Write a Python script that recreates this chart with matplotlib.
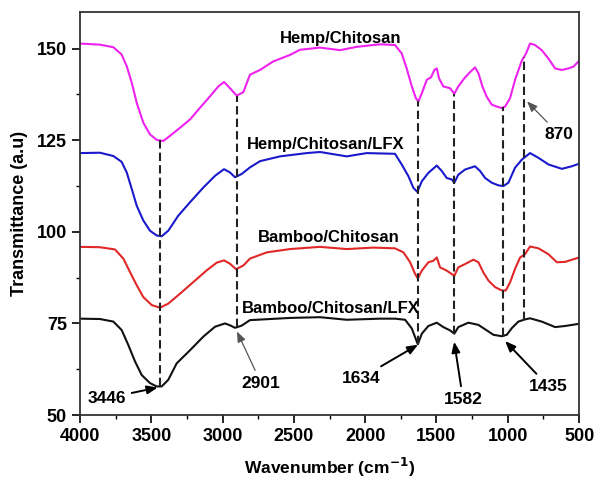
import numpy as np
import matplotlib
matplotlib.use("Agg")
import matplotlib.pyplot as plt

plt.rcParams['font.family'] = ['Liberation Sans', 'DejaVu Sans']
plt.rcParams['font.weight'] = 'bold'

# Hemp/Chitosan (magenta)
hc_wn = [4000, 3860, 3766, 3708, 3672, 3637, 3602, 3556, 3509, 3462, 3416, 3369, 3299, 3228,
         3158, 3088, 3030, 2990, 2960, 2901, 2855, 2808, 2737, 2646, 2527, 2457, 2317, 2177,
         2059, 1896, 1791, 1744, 1709, 1673, 1645, 1627, 1603, 1568, 1538, 1515, 1498, 1482,
         1452, 1405, 1375, 1347, 1305, 1272, 1230, 1206, 1178, 1148, 1112, 1077, 1042, 1019,
         984, 949, 902, 872, 844, 809, 762, 715, 668, 621, 575, 540, 500]
hc_val = [151.4, 151.1, 150.4, 148.4, 145.2, 140.7, 135.2, 129.8, 126.6, 125.1, 124.8, 126.2,
          128.4, 130.7, 133.9, 137.0, 139.7, 140.9, 139.7, 137.2, 138.1, 142.9, 144.2, 146.5,
          148.3, 149.7, 150.3, 149.6, 150.5, 151.2, 151.0, 148.7, 144.6, 139.7, 136.5, 135.6,
          137.8, 141.5, 142.2, 144.2, 144.6, 141.9, 139.7, 139.2, 137.7, 139.7, 141.9, 143.3,
          144.9, 143.3, 139.7, 136.9, 134.7, 134.2, 133.8, 134.2, 136.5, 141.5, 146.7, 148.7,
          151.4, 151.0, 149.6, 147.3, 144.6, 144.2, 144.6, 145.1, 146.7]

# Hemp/Chitosan/LFX (blue)
hcl_wn = [4000, 3860, 3766, 3708, 3672, 3637, 3602, 3556, 3509, 3462, 3427, 3381, 3311, 3228,
          3135, 3053, 2990, 2948, 2913, 2866, 2808, 2737, 2597, 2410, 2317, 2130, 1989, 1791,
          1744, 1697, 1662, 1634, 1603, 1557, 1498, 1463, 1428, 1393, 1375, 1347, 1300, 1230,
          1194, 1159, 1112, 1066, 1031, 996, 949, 902, 844, 785, 715, 621, 551, 500]
hcl_val = [121.5, 121.6, 120.7, 119.1, 116.2, 111.7, 107.1, 103.1, 100.3, 99.0, 98.8, 100.3,
           104.4, 108.1, 112.1, 115.3, 117.1, 116.2, 114.9, 115.8, 117.6, 119.3, 120.6, 121.5,
           121.8, 120.6, 121.5, 121.3, 118.4, 115.2, 112.0, 110.9, 113.8, 116.1, 118.1, 116.6,
           114.7, 114.3, 113.4, 115.6, 117.0, 117.9, 116.6, 114.7, 113.4, 112.7, 112.5, 113.4,
           117.5, 119.7, 121.5, 120.2, 118.4, 117.2, 117.9, 118.6]

# Bamboo/Chitosan (red)
bc_wn = [4000, 3860, 3755, 3696, 3649, 3602, 3556, 3497, 3439, 3381, 3299, 3205, 3111, 3041,
         2990, 2948, 2906, 2855, 2808, 2690, 2527, 2317, 2130, 1943, 1791, 1732, 1685, 1650,
         1631, 1603, 1557, 1522, 1498, 1475, 1428, 1375, 1347, 1300, 1241, 1206, 1171, 1136,
         1089, 1042, 1014, 984, 949, 914, 879, 844, 785, 715, 656, 598, 500]
bc_val = [95.9, 95.8, 95.2, 92.7, 89.0, 85.4, 82.2, 80.0, 79.3, 80.4, 83.1, 86.3, 89.5, 91.6,
          92.2, 91.3, 89.8, 90.8, 92.7, 94.4, 95.3, 95.9, 95.3, 95.7, 95.5, 94.4, 91.7, 88.5,
          87.3, 89.4, 91.7, 92.1, 93.0, 90.3, 89.4, 88.0, 90.3, 91.2, 92.4, 91.7, 88.9, 86.7,
          84.9, 84.0, 84.0, 86.2, 89.9, 93.0, 93.9, 96.0, 95.5, 93.9, 91.7, 91.8, 93.0]

# Bamboo/Chitosan/LFX (black)
bcl_wn = [4000, 3860, 3766, 3708, 3661, 3614, 3567, 3509, 3462, 3427, 3381, 3322, 3228, 3135,
          3053, 2983, 2943, 2913, 2866, 2808, 2527, 2317, 2130, 1896, 1791, 1720, 1673, 1631,
          1603, 1557, 1498, 1452, 1405, 1375, 1347, 1276, 1206, 1159, 1101, 1042, 1007, 972,
          926, 879, 844, 762, 668, 598, 500]
bcl_val = [76.3, 76.2, 75.5, 73.2, 69.1, 64.6, 60.9, 58.7, 57.8, 57.8, 59.6, 64.1, 67.7, 71.4,
           74.1, 75.0, 74.4, 73.8, 74.4, 75.9, 76.5, 76.7, 76.0, 76.3, 76.3, 76.0, 73.6, 69.3,
           72.2, 74.3, 75.2, 74.0, 73.1, 72.2, 74.0, 75.2, 74.6, 73.4, 71.9, 71.5, 71.9, 73.7,
           75.5, 76.1, 76.4, 75.5, 74.0, 74.3, 74.9]

series_names = ["Hemp/Chitosan", "Hemp/Chitosan/LFX", "Bamboo/Chitosan", "Bamboo/Chitosan/LFX"]
series_colors = ["#ee22ee", "#1a1acc", "#e02828", "#111111"]
label_pos = [(2169, 152.7), (2275, 123.9), (2254, 98.4), (2240, 79.1)]

# marked bands: dashed line positions
band_wn = [3440, 2901, 1629, 1376, 1033, 886]

# peak labels: text, text position, arrow tip
peak_labels = ["3446", "2901", "1634", "1582", "1435", "870"]
peak_text_xy = [(3811, 54.6), (2730, 58.7), (2029, 60.1), (1314, 54.3), (717, 57.9), (640, 126.6)]
peak_tip_xy = [(3455, 57.5), (2899, 72.8), (1629, 69.2), (1376, 70.0), (1019, 70.2), (865, 135.6)]
peak_arrow_col = ["black", "#555555", "black", "black", "black", "#555555"]


def main():
    fig = plt.figure(figsize=(5.97, 4.82), dpi=100)
    ax = fig.add_axes([0.134, 0.139, 0.836, 0.836])

    curves = [(hc_wn, hc_val), (hcl_wn, hcl_val), (bc_wn, bc_val), (bcl_wn, bcl_val)]
    for (wn, val), name, col, pos in zip(curves, series_names, series_colors, label_pos):
        ax.plot(wn, val, color=col, lw=1.5)
        ax.text(pos[0], pos[1], name, ha='center', va='center', fontsize=12, fontweight='bold')

    # dashed lines from top to bottom spectrum
    top = np.interp(band_wn, hc_wn[::-1], hc_val[::-1])
    bot = np.interp(band_wn, bcl_wn[::-1], bcl_val[::-1])
    for x, y0, y1 in zip(band_wn, bot, top):
        ax.plot([x, x], [y0, y1], color="#222222", lw=1.5, ls=(0, (4, 2)))

    for txt, txy, tip, col in zip(peak_labels, peak_text_xy, peak_tip_xy, peak_arrow_col):
        lw = 1.4 if col == "black" else 0.9
        ax.annotate(txt, xy=tip, xytext=txy, ha='center', va='center',
                    fontsize=12.5, fontweight='bold',
                    arrowprops=dict(arrowstyle='-|>,head_length=0.5,head_width=0.2',
                                    color=col, lw=lw, shrinkA=2, shrinkB=0))

    ax.set_xlim(4000, 500)
    ax.set_ylim(50, 160)
    ax.set_xticks([4000, 3500, 3000, 2500, 2000, 1500, 1000, 500])
    ax.set_xticks(np.arange(500, 4001, 250), minor=True)
    ax.set_yticks([50, 75, 100, 125, 150])
    ax.set_yticks(np.arange(50, 160, 12.5), minor=True)
    ax.tick_params(which='major', direction='out', length=6, width=1.2, labelsize=13,
                   top=False, right=False)
    ax.tick_params(which='minor', direction='out', length=3, width=1.0, top=False, right=False)
    for lab in ax.get_xticklabels() + ax.get_yticklabels():
        lab.set_fontweight('bold')
    for sp in ax.spines.values():
        sp.set_linewidth(1.3)
        sp.set_color("#333333")

    ax.set_xlabel(r"Wavenumber (cm$^{\mathbf{-1}}$)", fontsize=12.5, fontweight='bold', labelpad=8)
    ax.set_ylabel("Transmittance (a.u)", fontsize=13, fontweight='bold', labelpad=6)

    fig.savefig("out.png", dpi=100)


if __name__ == "__main__":
    main()
